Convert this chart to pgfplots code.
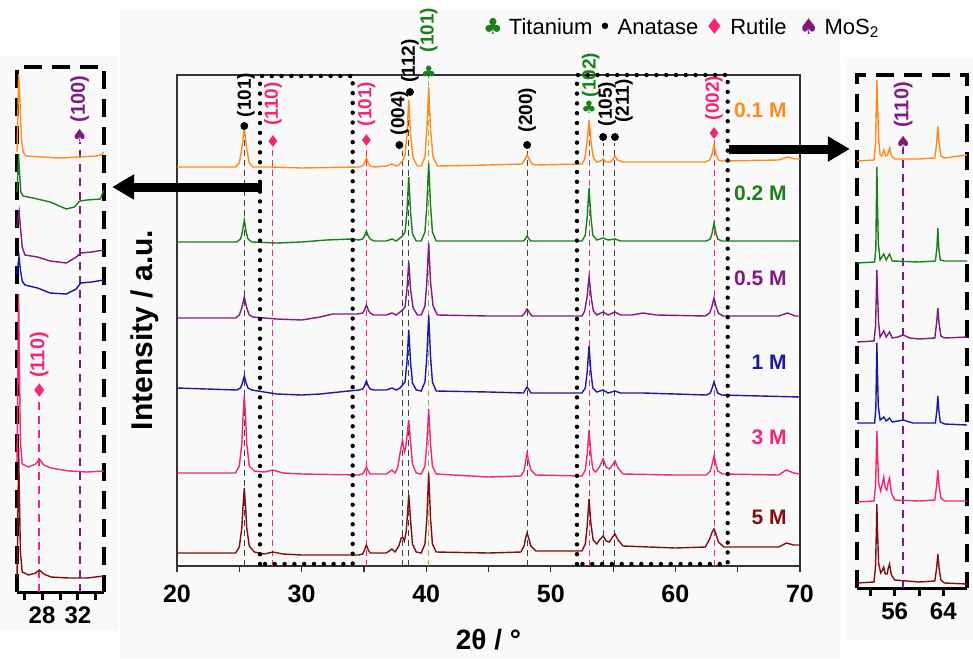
\documentclass[border=0pt]{standalone}
\usepackage{pgfplots}
\pgfplotsset{compat=1.18}
\usepackage{fontspec}
\setmainfont{Liberation Sans}
\newfontfamily\sym{DejaVu Sans}
\usetikzlibrary{arrows.meta}

\definecolor{cOr}{RGB}{255,140,26}
\definecolor{cGr}{RGB}{26,128,26}
\definecolor{cPu}{RGB}{128,26,128}
\definecolor{cBl}{RGB}{26,26,160}
\definecolor{cPk}{RGB}{240,40,120}
\definecolor{cBr}{RGB}{128,16,16}
\definecolor{cOl}{RGB}{180,170,60}
\definecolor{bgc}{RGB}{249,249,249}

\newcommand\lbl{\fontsize{9.5}{10}\selectfont\bfseries}
\newcommand\samp{\fontsize{10.5}{12}\selectfont\bfseries}
\newcommand\symsz{\sym\fontsize{8.5}{9}\selectfont}

\tikzset{
  vline/.style={line width=0.5pt, dash pattern=on 3pt off 2pt},
  dotbox/.style={line width=2.2pt, line cap=round, dash pattern=on 0pt off 4.9pt},
  dashbox/.style={line width=2pt, dash pattern=on 9pt off 5pt},
}

\begin{document}
\begin{tikzpicture}
\useasboundingbox (0,0) rectangle (486.5pt,-329pt);
\fill[bgc] (60pt,-5pt) rectangle (420pt,-329pt);
\fill[bgc] (0pt,-27.5pt) rectangle (59pt,-315pt);
\fill[bgc] (422.5pt,-29pt) rectangle (486.5pt,-320pt);

% ---------------- main panel ----------------
\begin{axis}[at={(88.5pt,-283pt)}, anchor=south west, scale only axis,
  width=311.5pt, height=245.5pt,
  xmin=20, xmax=70, ymin=0, ymax=491,
  ytick=\empty, xtick={20,30,...,70}, minor xtick={25,35,...,65},
  xtick pos=bottom, tick align=outside,
  major tick length=3pt, minor tick length=3pt,
  axis line style={line width=0.6pt, black!80},
  xtick style={line width=0.6pt, black!80},
  tick label style={font=\fontsize{12.5}{14}\selectfont\bfseries},
  xticklabel style={yshift=-3pt},
  /pgf/number format/assume math mode=true,
  clip=false]

% reference lines
\addplot[vline, black!75] coordinates {(25.4,0) (25.4,434)};
\addplot[vline, cPk] coordinates {(27.7,0) (27.7,419)};
\addplot[vline, cPk] coordinates {(35.2,0) (35.2,420)};
\addplot[vline, black!75] coordinates {(38.1,0) (38.1,415)};
\addplot[vline, black!75] coordinates {(38.6,0) (38.6,468)};
\addplot[vline, cOl] coordinates {(40.2,0) (40.2,485)};
\addplot[vline, black!75] coordinates {(48.1,0) (48.1,415)};
\addplot[vline, cPk] coordinates {(53.07,0) (53.07,450)};
\addplot[vline, black!75] coordinates {(54.2,0) (54.2,423)};
\addplot[vline, black!75] coordinates {(55.15,0) (55.15,423)};
\addplot[vline, cPk] coordinates {(63.1,0) (63.1,427)};

% 0.1 M
\addplot[cOr, line width=0.7pt] coordinates {
(20,399) (24.7,399) (25.0,403) (25.2,417) (25.4,438) (25.6,417) (25.8,403) (26.1,399)
(27.5,399) (30,398) (34.6,399) (34.9,400) (35.05,403) (35.2,408) (35.35,403) (35.5,400)
(35.8,399) (36.8,400) (37.25,402) (37.6,400) (37.8,401) (38.0,404) (38.1,405) (38.3,411)
(38.45,430) (38.6,466) (38.75,430) (38.95,408) (39.3,400) (39.6,400) (39.9,409) (40.05,436)
(40.2,479) (40.35,436) (40.55,409) (40.9,400) (45,401) (47.7,402) (47.9,406) (48.1,411)
(48.3,406) (48.5,402) (48.8,401) (52.5,402) (52.72,407) (52.9,422) (53.07,446) (53.25,422)
(53.42,408) (53.7,404) (54.0,405) (54.2,407) (54.45,404) (54.8,404) (55.0,407) (55.15,410)
(55.35,406) (55.8,404) (60,404) (62.4,404) (62.75,406) (62.92,411) (63.1,421) (63.28,411)
(63.45,406) (63.8,405) (68.3,406) (69,409) (69.6,407) (70,407)};
% 0.2 M
\addplot[cGr, line width=0.7pt] coordinates {
(20,324) (24.8,324) (25.1,327) (25.25,334) (25.4,346) (25.55,334) (25.7,327) (26,324)
(28,323) (30,324) (32,326) (34,327) (34.6,326) (34.9,327) (35.05,330) (35.2,335) (35.35,330)
(35.5,327) (35.8,325) (36.8,325) (37.25,327) (37.6,325) (37.9,328) (38.1,330) (38.3,334)
(38.45,353) (38.6,389) (38.75,353) (38.9,332) (39.2,325) (39.6,325) (39.9,334) (40.05,360)
(40.2,403) (40.35,360) (40.5,334) (40.8,325) (45,325) (47.8,325) (47.95,327) (48.1,330)
(48.25,327) (48.4,325) (52.5,325) (52.77,331) (52.92,349) (53.07,378) (53.22,349) (53.37,331)
(53.7,326) (54.2,328) (54.6,326) (55.15,327) (55.6,325) (62.5,325) (62.8,327) (62.95,333)
(63.1,343) (63.25,333) (63.4,327) (63.7,325) (70,325)};
% 0.5 M
\addplot[cPu, line width=0.7pt] coordinates {
(20,248) (24.7,248) (25.0,251) (25.2,258) (25.4,269) (25.6,258) (25.8,251) (26.1,249)
(28,247) (30,246) (31.5,249) (32.5,252) (34.5,252) (34.9,253) (35.05,256) (35.2,261)
(35.35,256) (35.5,253) (35.8,251) (36.8,251) (37.25,253) (37.6,251) (37.9,254) (38.1,256)
(38.3,259) (38.45,276) (38.6,304) (38.75,276) (38.95,258) (39.3,251) (39.6,251) (39.9,260)
(40.05,284) (40.2,323) (40.35,284) (40.55,260) (40.9,251) (45,250) (47.7,250) (47.9,253)
(48.1,257) (48.3,253) (48.5,250) (52.5,250) (52.72,255) (52.9,268) (53.07,289) (53.25,268)
(53.42,255) (53.7,251) (54.2,254) (54.6,251) (55.15,254) (55.6,251) (56.5,251) (57.4,253)
(58.5,251) (62.4,250) (62.75,253) (62.92,259) (63.1,268) (63.28,259) (63.45,253) (63.8,250)
(68.3,250) (69,253) (69.6,250) (70,250)};
% 1 M
\addplot[cBl, line width=0.7pt] coordinates {
(20,178) (24.8,176) (25.1,178) (25.25,183) (25.4,190) (25.55,183) (25.7,178) (26.0,176)
(28,172) (30,171) (31.5,172) (33,174) (34.6,176) (34.9,177) (35.05,180) (35.2,185)
(35.35,180) (35.5,177) (35.8,176) (36.8,176) (37.25,178) (37.6,176) (37.9,178) (38.1,181)
(38.3,184) (38.45,203) (38.6,236) (38.75,203) (38.9,183) (39.2,176) (39.6,175) (39.9,184)
(40.05,209) (40.2,251) (40.35,209) (40.5,184) (40.8,175) (45,174) (47.8,173) (47.95,176)
(48.1,179) (48.25,176) (48.4,173) (52.5,173) (52.77,178) (52.92,194) (53.07,220) (53.22,194)
(53.37,178) (53.7,174) (54.2,176) (54.6,173) (55.15,175) (55.6,173) (57.4,173) (60,172)
(62.5,171) (62.8,173) (62.95,178) (63.1,184) (63.25,178) (63.4,173) (63.7,171) (70,169)};
% 3 M
\addplot[cPk, line width=0.7pt] coordinates {
(20,93) (24.7,93) (25.0,100) (25.2,122) (25.3,150) (25.4,171) (25.5,150) (25.6,122)
(25.8,100) (26.2,95) (27.0,94) (27.7,96) (28.5,93) (30,92) (34.6,91) (34.9,92) (35.05,95)
(35.2,99) (35.35,95) (35.5,92) (36.8,92) (37.25,96) (37.5,93) (37.7,98) (37.95,116)
(38.1,126) (38.25,114) (38.35,118) (38.45,129) (38.6,146) (38.75,123) (38.9,102) (39.2,93)
(39.6,92) (39.9,100) (40.05,122) (40.2,157) (40.35,122) (40.5,100) (40.8,92) (45,89)
(47.6,90) (47.85,95) (48.0,106) (48.1,113) (48.2,106) (48.4,96) (48.8,91) (52.5,90)
(52.77,96) (52.92,112) (53.07,136) (53.22,112) (53.37,97) (53.6,94) (53.9,99) (54.2,107)
(54.45,99) (54.7,97) (54.95,101) (55.15,105) (55.4,98) (55.8,92) (60,91) (62.5,91)
(62.8,95) (62.95,102) (63.1,110) (63.25,102) (63.4,95) (63.8,92) (68.3,91) (68.9,96)
(69.5,93) (70,92)};
% 5 M
\addplot[cBr, line width=0.7pt] coordinates {
(20,13) (24.7,13) (25.0,19) (25.2,38) (25.3,60) (25.4,78) (25.5,60) (25.6,38) (25.8,20)
(26.2,14) (27.0,12) (27.7,14) (28.5,12) (30,11) (34.6,11) (34.9,12) (35.05,16) (35.2,21)
(35.35,16) (35.5,13) (36.8,13) (37.25,17) (37.5,14) (37.8,20) (38.0,28) (38.1,29)
(38.25,25) (38.4,35) (38.5,52) (38.6,71) (38.75,45) (38.9,22) (39.2,14) (39.6,13)
(39.9,22) (40.05,47) (40.2,93) (40.35,47) (40.5,22) (40.8,14) (45,13) (47.6,14) (47.85,20)
(48.0,29) (48.1,33) (48.2,29) (48.4,20) (48.8,15) (52.5,15) (52.77,22) (52.92,40)
(53.07,67) (53.22,42) (53.4,26) (53.7,22) (53.9,26) (54.2,30) (54.45,25) (54.7,24)
(54.95,29) (55.15,32) (55.4,26) (55.8,20) (60,18) (62.4,19) (62.75,27) (62.95,34)
(63.1,37) (63.25,32) (63.45,24) (63.9,19) (68.3,19) (68.9,23) (69.5,21) (70,21)};

% phase markers
\addplot[only marks, mark=*, mark size=1.75pt, black] coordinates {
(25.4,440) (37.85,421) (38.7,474) (48.1,421) (54.2,429) (55.15,429)};
\addplot[only marks, mark=diamond*, mark size=2.6pt, cPk] coordinates {
(27.7,425) (35.2,426) (63.1,433)};
\addplot[only marks, mark=text, text mark={\symsz\color{cGr}♣}] coordinates {
(40.2,494) (53.07,459)};

% hkl labels
\node[rotate=90, font=\lbl] at (axis cs:25.54,471) {(101)};
\node[rotate=90, font=\lbl, text=cPk] at (axis cs:27.7,462) {(110)};
\node[rotate=90, font=\lbl, text=cPk] at (axis cs:35.2,462) {(101)};
\node[rotate=90, font=\lbl] at (axis cs:37.85,453) {(004)};
\node[rotate=90, font=\lbl] at (axis cs:38.7,505) {(112)};
\node[rotate=90, font=\lbl, text=cGr] at (axis cs:40.2,536) {(101)};
\node[rotate=90, font=\lbl] at (axis cs:48.1,456) {(200)};
\node[rotate=90, font=\lbl, text=cGr] at (axis cs:53.2,491) {(102)};
\node[rotate=90, font=\lbl] at (axis cs:54.5,462) {(105)};
\node[rotate=90, font=\lbl] at (axis cs:55.87,465) {(211)};
\node[rotate=90, font=\lbl, text=cPk] at (axis cs:63.1,468) {(002)};

% sample labels
\node[anchor=east, font=\samp, text=cOr] at (axis cs:69.5,456) {0.1 M};
\node[anchor=east, font=\samp, text=cGr] at (axis cs:69.5,373) {0.2 M};
\node[anchor=east, font=\samp, text=cPu] at (axis cs:69.5,288) {0.5 M};
\node[anchor=east, font=\samp, text=cBl] at (axis cs:69.5,204) {1 M};
\node[anchor=east, font=\samp, text=cPk] at (axis cs:69.5,129) {3 M};
\node[anchor=east, font=\samp, text=cBr] at (axis cs:69.5,49) {5 M};

% zoom boxes and arrows
\draw[dotbox] (axis cs:26.66,2) rectangle (axis cs:34.1,490);
\draw[dotbox] (axis cs:52.1,2) rectangle (axis cs:64.2,491);
\draw[line width=4.5pt, -{Triangle[length=11pt,width=12pt]}] (axis cs:26.8,379) -- (axis cs:14.8,379);
\draw[line width=4.5pt, -{Triangle[length=11pt,width=12pt]}] (axis cs:64.3,417) -- (axis cs:74.0,417);

% axis titles and phase key
\node[font=\fontsize{14}{16}\selectfont\bfseries] at (axis cs:45,-74) {2θ / °};
\node[rotate=90, font=\fontsize{15}{17}\selectfont\bfseries] at (axis cs:17.43,236) {Intensity / a.u.};
\node[anchor=west, font=\fontsize{11}{13}\selectfont] at (axis cs:44.0,538)
  {{\sym\color{cGr}♣} Titanium {\sym •} Anatase {\sym\color{cPk}♦} Rutile\ \ {\sym\color{cPu}♠} MoS\textsubscript{2}};
\end{axis}

% ---------------- left inset (26-35 deg) ----------------
\begin{axis}[at={(8.5pt,-296pt)}, anchor=south west, scale only axis,
  width=43.5pt, height=262.5pt,
  xmin=25.22, xmax=34.89, ymin=0, ymax=525,
  axis x line*=bottom, axis y line=none,
  xtick={26,28,30,32,34}, xticklabels={,28,,32,},
  tick align=outside, major tick length=4pt,
  x axis line style={line width=1.5pt},
  xtick style={line width=1.5pt, black},
  tick label style={font=\fontsize{12}{14}\selectfont\bfseries},
  /pgf/number format/assume math mode=true,
  clip=false]
\draw[dashbox] (rel axis cs:0,0) -- (rel axis cs:0,1) -- (rel axis cs:1,1) -- (rel axis cs:1,0);
\addplot[cPk, line width=1pt, dash pattern=on 4pt off 3pt] coordinates {(27.7,0) (27.7,195)};
\addplot[cPu, line width=1pt, dash pattern=on 4pt off 3pt] coordinates {(32.2,0) (32.2,450)};
\addplot[cOr, line width=0.7pt] coordinates {
(25.22,440) (25.3,470) (25.4,518) (25.55,490) (25.7,455) (25.9,440) (26.2,436) (28,435)
(30,434) (32,435) (34,436) (34.6,437) (34.85,440)};
\addplot[cGr, line width=0.7pt] coordinates {
(25.22,400) (25.3,415) (25.4,437) (25.5,420) (25.65,400) (25.9,396) (27,394) (28.9,390)
(30.7,383) (31.6,385) (32.2,391) (33,392) (34.5,393) (34.85,402)};
\addplot[cPu, line width=0.7pt] coordinates {
(25.22,365) (25.3,372) (25.45,381) (25.6,365) (25.8,345) (26.1,337) (27.5,335) (28.9,331)
(30.7,329) (31.8,335) (32.3,339) (33.5,340) (34.85,342)};
\addplot[cBl, line width=0.7pt] coordinates {
(25.22,318) (25.3,325) (25.45,335) (25.6,322) (25.8,311) (26.1,307) (27.5,304) (28.9,299)
(30.7,298) (31.8,303) (32.3,309) (33.5,310) (34.85,312)};
\addplot[cPk, line width=0.7pt] coordinates {
(25.22,130) (25.3,200) (25.4,298) (25.5,220) (25.6,150) (25.8,128) (26.5,125) (27.3,128)
(27.7,133) (28.2,127) (29,124) (31,121) (33,120) (34.85,121)};
\addplot[cBr, line width=0.7pt] coordinates {
(25.22,14) (25.3,60) (25.4,144) (25.5,90) (25.6,40) (25.8,20) (26.5,17) (27.3,19)
(27.7,22) (28.2,18) (29,15) (31,14) (33,14) (34.85,16)};
\addplot[only marks, mark=diamond*, mark size=3pt, cPk] coordinates {(27.7,202)};
\addplot[only marks, mark=text, text mark={\symsz\color{cPu}♠}] coordinates {(32.2,457)};
\node[rotate=90, font=\fontsize{10}{11}\selectfont\bfseries, text=cPk] at (axis cs:27.7,237) {(110)};
\node[rotate=90, font=\fontsize{10}{11}\selectfont\bfseries, text=cPu] at (axis cs:32.2,493) {(100)};
\end{axis}

% ---------------- right inset (50-68 deg) ----------------
\begin{axis}[at={(428.5pt,-294pt)}, anchor=south west, scale only axis,
  width=55pt, height=256.5pt,
  xmin=49.8, xmax=67.9, ymin=0, ymax=513,
  axis x line*=bottom, axis y line=none,
  xtick={52,56,60,64}, xticklabels={,56,,64},
  tick align=outside, major tick length=4pt,
  x axis line style={line width=1.5pt},
  xtick style={line width=1.5pt, black},
  tick label style={font=\fontsize{12}{14}\selectfont\bfseries},
  /pgf/number format/assume math mode=true,
  clip=false]
\draw[dashbox] (rel axis cs:0,0) -- (rel axis cs:0,1) -- (rel axis cs:1,1) -- (rel axis cs:1,0);
\addplot[cPu, line width=1pt, dash pattern=on 4pt off 3pt] coordinates {(57.4,0) (57.4,440)};
\addplot[cOr, line width=0.7pt] coordinates {
(49.8,427) (52.6,428) (52.85,445) (53.0,490) (53.07,508) (53.15,490) (53.35,450) (53.6,433)
(53.9,432) (54.2,438) (54.5,432) (54.85,433) (55.15,440) (55.5,432) (56,429) (60,429)
(62.6,430) (62.9,445) (63.1,462) (63.3,445) (63.6,432) (64.2,430) (67.9,433)};
\addplot[cGr, line width=0.7pt] coordinates {
(49.8,325) (52.7,326) (52.9,340) (53.0,390) (53.07,421) (53.15,390) (53.3,345) (53.6,328)
(54.2,334) (54.6,328) (55.15,334) (55.6,327) (60,326) (62.7,327) (62.95,340) (63.1,360)
(63.25,340) (63.5,328) (64.2,327) (67.9,327)};
\addplot[cPu, line width=0.7pt] coordinates {
(49.8,246) (52.6,247) (52.85,262) (53.0,300) (53.07,318) (53.15,300) (53.35,265) (53.6,251)
(54.2,257) (54.6,251) (55.15,256) (55.6,250) (56.5,251) (57.4,253) (58.5,250) (60,249)
(62.6,250) (62.9,265) (63.1,280) (63.3,265) (63.6,252) (64.2,250) (67.9,251)};
\addplot[cBl, line width=0.7pt] coordinates {
(49.8,165) (52.7,165) (52.9,180) (53.0,220) (53.07,245) (53.15,220) (53.3,182) (53.6,168)
(54.2,171) (54.6,167) (55.15,170) (55.6,166) (57.4,168) (59,165) (62.7,165) (62.95,178)
(63.1,192) (63.25,178) (63.5,166) (64.2,164) (67.9,163)};
\addplot[cPk, line width=0.7pt] coordinates {
(49.8,86) (52.6,87) (52.85,102) (53.0,140) (53.07,157) (53.15,140) (53.35,105) (53.7,97)
(54.0,105) (54.2,111) (54.45,100) (54.7,98) (54.95,106) (55.15,110) (55.45,95) (56,88)
(60,87) (62.6,88) (62.9,102) (63.1,118) (63.3,102) (63.6,90) (64.2,87) (67.9,87)};
\addplot[cBr, line width=0.7pt] coordinates {
(49.8,5) (52.6,6) (52.85,22) (53.0,62) (53.07,84) (53.15,62) (53.35,25) (53.7,15)
(54.0,18) (54.2,21) (54.45,14) (54.75,14) (54.95,20) (55.15,24) (55.45,13) (56,8)
(60,6) (62.6,7) (62.9,20) (63.1,34) (63.3,20) (63.6,8) (64.2,5) (67.9,4)};
\addplot[only marks, mark=text, text mark={\symsz\color{cPu}♠}] coordinates {(57.4,446)};
\node[rotate=90, font=\fontsize{10}{11}\selectfont\bfseries, text=cPu] at (axis cs:57.4,483) {(110)};
\end{axis}
\end{tikzpicture}
\end{document}
